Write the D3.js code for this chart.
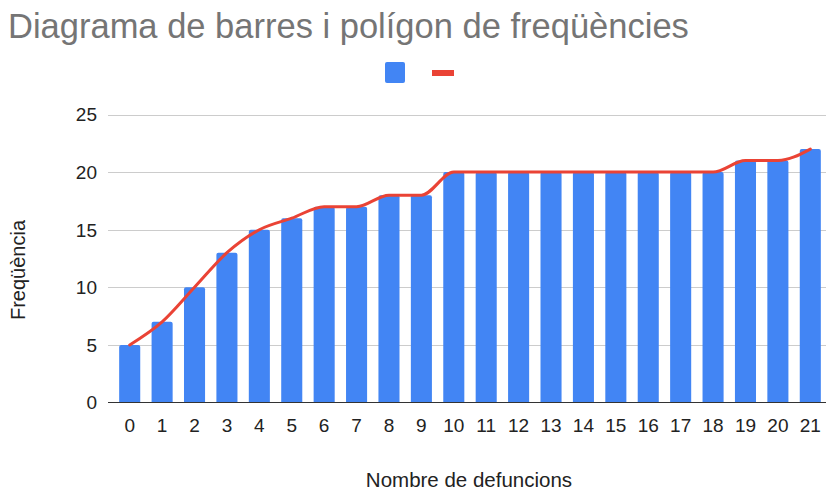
<!DOCTYPE html>
<html>
<head>
<meta charset="utf-8">
<script src="https://cdn.jsdelivr.net/npm/d3@7"></script>
<style>
  body { margin: 0; background: #fff; }
  text { font-family: "Liberation Sans", Arial, sans-serif; }
</style>
</head>
<body>
<svg width="828" height="494"></svg>
<script>
const categories = ['0','1','2','3','4','5','6','7','8','9','10','11','12','13','14','15','16','17','18','19','20','21'];
const barValues = [5, 7, 10, 13, 15, 16, 17, 17, 18, 18, 20, 20, 20, 20, 20, 20, 20, 20, 20, 21, 21, 22];
const lineValues = [5, 7, 10, 13, 15, 16, 17, 17, 18, 18, 20, 20, 20, 20, 20, 20, 20, 20, 20, 21, 21, 22];
const yTicks = [0, 5, 10, 15, 20, 25];

const titleText = 'Diagrama de barres i polígon de freqüències';
const xAxisLabel = 'Nombre de defuncions';
const yAxisLabel = 'Freqüència';

const svg = d3.select('svg');
const blue = '#4285f4';
const red = '#ea4335';

// plot area
const plotLeft = 108, plotRight = 826, plotTop = 114.5, plotBottom = 402.5;

const x = d3.scaleBand()
    .domain(categories)
    .range([113.5, 826.5])
    .paddingInner(0.35)
    .paddingOuter(0.175);

const y = d3.scaleLinear()
    .domain([0, 25])
    .range([plotBottom, plotTop]);

// title
svg.append('text')
    .attr('x', 8)
    .attr('y', 38)
    .attr('font-size', 34.5)
    .attr('fill', '#757575')
    .text(titleText);

// legend (no labels)
svg.append('rect')
    .attr('x', 385).attr('y', 62)
    .attr('width', 20).attr('height', 21)
    .attr('rx', 2)
    .attr('fill', blue);
svg.append('rect')
    .attr('x', 432).attr('y', 70)
    .attr('width', 22).attr('height', 6)
    .attr('fill', red);

// gridlines
svg.append('g')
    .selectAll('line')
    .data(yTicks.filter(d => d > 0))
    .join('line')
    .attr('x1', plotLeft).attr('x2', plotRight)
    .attr('y1', d => Math.round(y(d)) + 0.5)
    .attr('y2', d => Math.round(y(d)) + 0.5)
    .attr('stroke', '#cccccc')
    .attr('stroke-width', 1);

// y tick labels
svg.append('g')
    .selectAll('text')
    .data(yTicks)
    .join('text')
    .attr('x', 97)
    .attr('y', d => y(d))
    .attr('dy', '0.36em')
    .attr('text-anchor', 'end')
    .attr('font-size', 19)
    .attr('fill', '#222')
    .text(d => d);

// bars with slightly rounded tops
const r = 2;
svg.append('g')
    .selectAll('path')
    .data(barValues)
    .join('path')
    .attr('fill', blue)
    .attr('d', (d, i) => {
        const x0 = x(categories[i]), w = x.bandwidth();
        const y0 = y(d), y1 = y(0);
        return `M${x0},${y1}V${y0 + r}Q${x0},${y0} ${x0 + r},${y0}H${x0 + w - r}Q${x0 + w},${y0} ${x0 + w},${y0 + r}V${y1}Z`;
    });

// baseline
svg.append('line')
    .attr('x1', plotLeft).attr('x2', plotRight)
    .attr('y1', plotBottom).attr('y2', plotBottom)
    .attr('stroke', '#333')
    .attr('stroke-width', 1.2);

// x tick labels
svg.append('g')
    .selectAll('text')
    .data(categories)
    .join('text')
    .attr('x', d => x(d) + x.bandwidth() / 2)
    .attr('y', 432)
    .attr('text-anchor', 'middle')
    .attr('font-size', 19)
    .attr('fill', '#222')
    .text(d => d);

// frequency polygon
const line = d3.line()
    .x((d, i) => x(categories[i]) + x.bandwidth() / 2)
    .y(d => y(d))
    .curve(d3.curveMonotoneX);

svg.append('path')
    .datum(lineValues)
    .attr('d', line)
    .attr('fill', 'none')
    .attr('stroke', red)
    .attr('stroke-width', 3)
    .attr('stroke-linejoin', 'round')
    .attr('stroke-linecap', 'round');

// axis labels
svg.append('text')
    .attr('x', 469)
    .attr('y', 487)
    .attr('text-anchor', 'middle')
    .attr('font-size', 20.5)
    .attr('fill', '#222')
    .text(xAxisLabel);

svg.append('text')
    .attr('transform', 'translate(25,270) rotate(-90)')
    .attr('text-anchor', 'middle')
    .attr('font-size', 20)
    .attr('fill', '#222')
    .text(yAxisLabel);
</script>
</body>
</html>
